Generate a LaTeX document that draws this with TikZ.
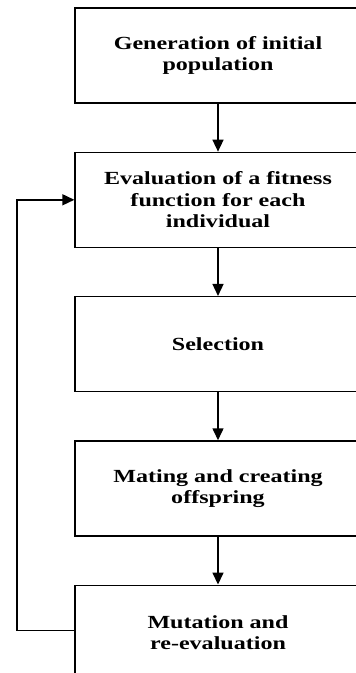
\documentclass[tikz,border=0pt]{standalone}
\usepackage{fontspec}
\newfontfamily\boxfont{Liberation Serif}[FakeStretch=1.3]
\usetikzlibrary{positioning,arrows.meta}

\begin{document}
\begin{tikzpicture}[
    x=1pt, y=1pt,
    node distance=48pt,
    every node/.style={font=\boxfont\bfseries\fontsize{18.5}{21.5}\selectfont},
    box/.style={rectangle, draw, line width=1.3pt, minimum width=286pt, minimum height=95pt, align=center, inner sep=0pt},
    arrow/.style={-{Triangle[length=12pt,width=11pt]}, line width=1.5pt},
]
\clip (0,0) rectangle (356,-673);
\node[box] (gen) at (218,-55.5) {Generation of initial\\population};
\node[box, below=of gen] (eval) {Evaluation of a fitness\\function for each\\individual};
\node[box, below=of eval] (sel) {Selection};
\node[box, below=of sel] (mate) {Mating and creating\\offspring};
\node[box, below=of mate] (mut) {Mutation and\\re-evaluation};
\draw[arrow] (gen) -- (eval);
\draw[arrow] (eval) -- (sel);
\draw[arrow] (sel) -- (mate);
\draw[arrow] (mate) -- (mut);
\coordinate (loop) at (17,0);
\draw[arrow] ([yshift=2pt]mut.west) -| (loop |- eval.west) -- (eval.west);
\end{tikzpicture}
\end{document}
